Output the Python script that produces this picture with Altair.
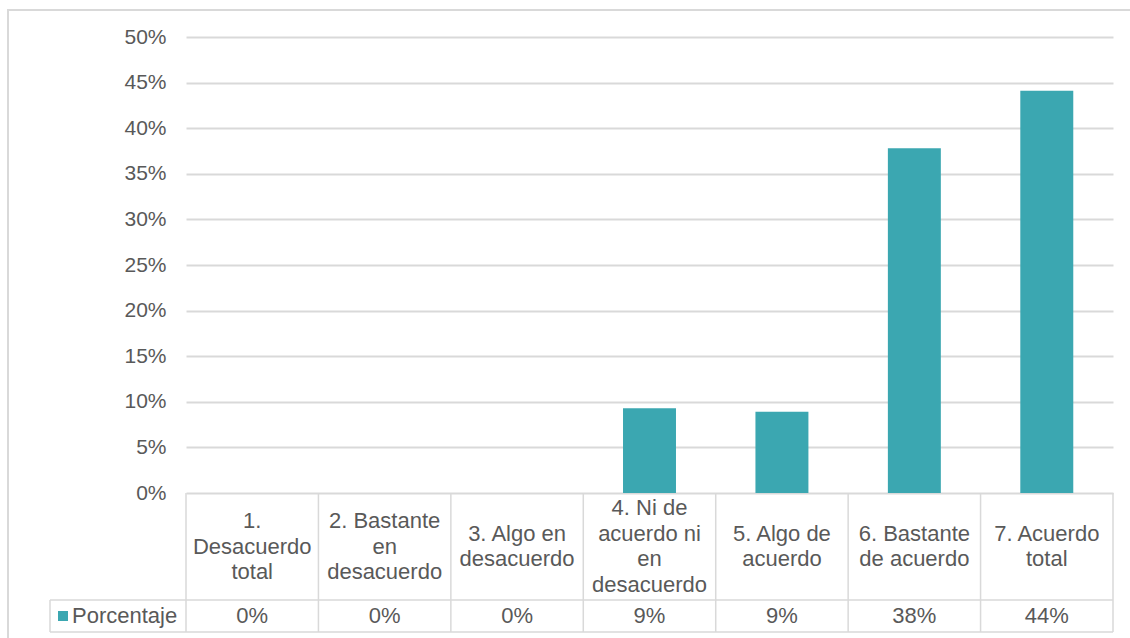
import altair as alt
import pandas as pd

# Survey answers on a 7-point agreement scale
categories = [
    "1. Desacuerdo total",
    "2. Bastante en desacuerdo",
    "3. Algo en desacuerdo",
    "4. Ni de acuerdo ni en desacuerdo",
    "5. Algo de acuerdo",
    "6. Bastante de acuerdo",
    "7. Acuerdo total",
]
# Wrapped header text for the data table under the bars
header_labels = [
    "1.\nDesacuerdo\ntotal",
    "2. Bastante\nen\ndesacuerdo",
    "3. Algo en\ndesacuerdo",
    "4. Ni de\nacuerdo ni\nen\ndesacuerdo",
    "5. Algo de\nacuerdo",
    "6. Bastante\nde acuerdo",
    "7. Acuerdo\ntotal",
]
porcentaje = [0.0, 0.0, 0.0, 0.093, 0.089, 0.378, 0.441]
series_name = "Porcentaje"
tick_values = [0, 0.05, 0.10, 0.15, 0.20, 0.25, 0.30, 0.35, 0.40, 0.45, 0.50]

TEAL = "#3BA7B1"
TEXT = "#595959"
LINE = "#D9D9D9"
FONT = "Liberation Sans"
LINE_HEIGHT = 25.5

# Layout: value axis 0..50% over 456 px, then a 107 px header row and a 32 px value row
W, H = 927, 595
unit = 0.5 / 456
header_bottom = -107 * unit
table_bottom = -139 * unit
header_mid = -53.5 * unit
value_mid = -123 * unit

df = pd.DataFrame({"cat": categories, "label": header_labels, "value": porcentaje})
# first line of each wrapped header sits so that the whole block is centred in the row
df["ty"] = [header_mid + (s.count("\n") * LINE_HEIGHT / 2) * unit for s in header_labels]

x_band = alt.X("cat:N", sort=categories, scale=alt.Scale(paddingInner=0, paddingOuter=0), axis=None)
y_scale = alt.Scale(domain=[table_bottom, 0.5], nice=False, zero=False)

base = alt.Chart(df)

bars = base.mark_bar(color=TEAL, width=alt.RelativeBandSize(0.4)).encode(
    x=x_band,
    y=alt.Y(
        "value:Q",
        scale=y_scale,
        title=None,
        axis=alt.Axis(values=tick_values, format=".0%", grid=True),
    ),
)

headers = base.mark_text(
    lineBreak="\n", font=FONT, fontSize=22, color=TEXT, lineHeight=LINE_HEIGHT, baseline="middle"
).encode(x=x_band, y=alt.Y("ty:Q", scale=y_scale), text="label:N")

values = base.mark_text(font=FONT, fontSize=22, color=TEXT, baseline="middle").encode(
    x=x_band, y=alt.datum(value_mid), text=alt.Text("value:Q", format=".0%")
)

col_lines = base.mark_rule(color=LINE, strokeWidth=1.5).encode(
    x=alt.X("cat:N", sort=categories, bandPosition=0, axis=None),
    y=alt.datum(0),
    y2=alt.datum(table_bottom),
)

right_edge = alt.Chart(df.tail(1)).mark_rule(color=LINE, strokeWidth=1.5).encode(
    x=alt.X("cat:N", sort=categories, bandPosition=1, axis=None),
    y=alt.datum(0),
    y2=alt.datum(table_bottom),
)

rows = pd.DataFrame({"y": [header_bottom, table_bottom]})
row_lines = alt.Chart(rows).mark_rule(color=LINE, strokeWidth=1.5).encode(
    x=alt.value(-136), x2=alt.value(W), y=alt.Y("y:Q", scale=y_scale)
)

legend_edge = alt.Chart(df.head(1)).mark_rule(color=LINE, strokeWidth=1.5).encode(
    x=alt.value(-136), y=alt.datum(header_bottom), y2=alt.datum(table_bottom)
)

legend_df = pd.DataFrame({"name": [series_name]})
swatch = alt.Chart(legend_df).mark_square(color=TEAL, size=100, opacity=1).encode(
    x=alt.value(-123), y=alt.datum(value_mid)
)
legend_text = alt.Chart(legend_df).mark_text(
    font=FONT, fontSize=22, color=TEXT, align="left", baseline="middle"
).encode(x=alt.value(-114), y=alt.datum(value_mid), text="name:N")

frame = alt.Chart(legend_df).mark_rect(filled=False, stroke=LINE, strokeWidth=2).encode(
    x=alt.value(-178), x2=alt.value(W + 60), y=alt.value(-27), y2=alt.value(H + 60)
)

chart = (
    alt.layer(frame, bars, row_lines, col_lines, right_edge, legend_edge, headers, values, swatch, legend_text)
    .properties(
        width=W,
        height=H,
        autosize=alt.AutoSizeParams(type="none"),
        padding={"left": 186, "top": 37, "right": 17, "bottom": 6},
        background="white",
    )
    .configure_view(stroke=None)
    .configure_axis(
        labelFont=FONT,
        labelFontSize=21,
        labelColor=TEXT,
        labelPadding=20,
        domain=False,
        ticks=False,
        gridColor=LINE,
        gridWidth=2,
    )
)

chart.save("out.html", embed_options={"renderer": "svg", "actions": False})
